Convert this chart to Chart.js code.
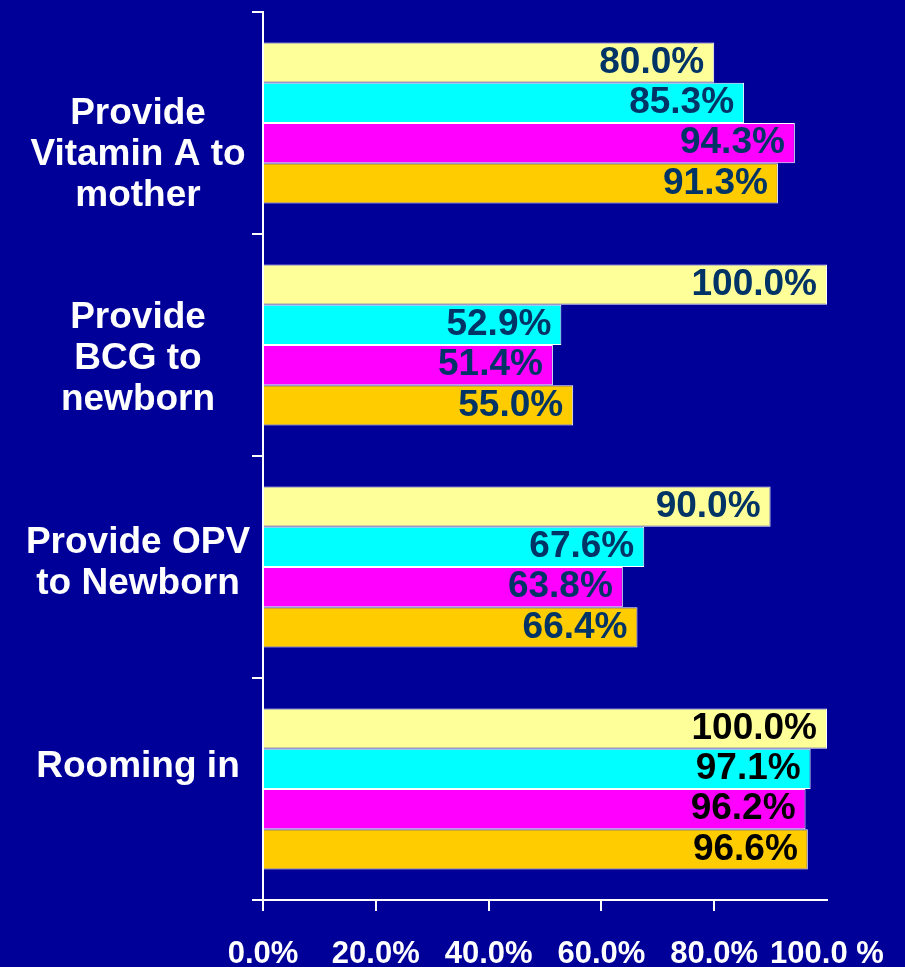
<!DOCTYPE html>
<html>
<head>
<meta charset="utf-8">
<script src="https://cdn.jsdelivr.net/npm/chart.js@4/dist/chart.umd.min.js"></script>
<style>
  html, body { margin: 0; padding: 0; background: #000099; }
  canvas { display: block; }
</style>
</head>
<body>
<canvas id="chart" width="905" height="967"></canvas>
<script>
// Chart data
const categories = [
  ['Provide', 'Vitamin A to', 'mother'],
  ['Provide', 'BCG to', 'newborn'],
  ['Provide OPV', 'to Newborn'],
  ['Rooming in'],
];
const series1 = [80.0, 100.0, 90.0, 100.0];
const series2 = [85.3, 52.9, 67.6, 97.1];
const series3 = [94.3, 51.4, 63.8, 96.2];
const series4 = [91.3, 55.0, 66.4, 96.6];
const xTickLabels = ['0.0%', '20.0%', '40.0%', '60.0%', '80.0%', '100.0 %'];

const FONT = '"Liberation Sans", Arial, sans-serif';
const barColors = ['#ffff99', '#00ffff', '#ff00ff', '#ffcc00'];

// Category names drawn in the left margin
const categoryLabels = {
  id: 'categoryLabels',
  afterDraw(chart) {
    const { ctx } = chart;
    const y = chart.scales.y;
    ctx.save();
    ctx.font = `bold 37px ${FONT}`;
    ctx.fillStyle = '#ffffff';
    ctx.textAlign = 'center';
    ctx.textBaseline = 'middle';
    const lineH = 41;
    categories.forEach((lines, i) => {
      const cy = y.getPixelForValue(i) + (1.5 - i) * 18 + 5;
      const top = cy - (lines.length - 1) * lineH / 2;
      lines.forEach((t, j) => ctx.fillText(t, 138, top + j * lineH));
    });
    ctx.restore();
  },
};

// Value labels at the end of each bar
const valueLabels = {
  id: 'valueLabels',
  afterDatasetsDraw(chart) {
    const { ctx } = chart;
    ctx.save();
    ctx.font = `bold 37px ${FONT}`;
    ctx.textAlign = 'right';
    ctx.textBaseline = 'middle';
    chart.data.datasets.forEach((ds, di) => {
      chart.getDatasetMeta(di).data.forEach((bar, i) => {
        ctx.fillStyle = i === 3 ? '#000000' : '#003366';
        ctx.fillText(ds.data[i].toFixed(1) + '%', bar.x - 10, bar.y);
      });
    });
    ctx.restore();
  },
};

const makeSet = (label, data, color) => ({
  label,
  data,
  backgroundColor: color,
  borderColor: '#ffffff',
  borderWidth: 1,
  categoryPercentage: 0.725,
  barPercentage: 1.0,
});

new Chart(document.getElementById('chart'), {
  type: 'bar',
  data: {
    labels: categories,
    datasets: [
      makeSet('Series 1', series1, barColors[0]),
      makeSet('Series 2', series2, barColors[1]),
      makeSet('Series 3', series3, barColors[2]),
      makeSet('Series 4', series4, barColors[3]),
    ],
  },
  options: {
    indexAxis: 'y',
    responsive: false,
    animation: false,
    layout: { padding: { left: 252, top: 12, right: 78, bottom: 0 } },
    plugins: {
      legend: { display: false },
      tooltip: { enabled: false },
    },
    scales: {
      x: {
        min: 0,
        max: 100,
        afterFit: (scale) => {
          scale.height = 67;
          scale.paddingLeft = 0;
          scale.paddingRight = 0;
        },
        ticks: {
          stepSize: 20,
          autoSkip: false,
          color: '#ffffff',
          padding: 28,
          font: { family: FONT, size: 31, weight: 'bold', lineHeight: 1 },
          maxRotation: 0,
          callback: (v) => xTickLabels[Math.round(v / 20)],
        },
        grid: {
          drawOnChartArea: false,
          tickLength: 11,
          lineWidth: 2,
          color: (c) => (c.tick && c.tick.value === 100 ? 'rgba(0,0,0,0)' : '#ffffff'),
        },
        border: { display: true, color: '#ffffff', width: 2 },
      },
      y: {
        ticks: { display: false },
        grid: {
          drawOnChartArea: false,
          tickLength: 11,
          lineWidth: 2,
          color: '#ffffff',
        },
        border: { display: true, color: '#ffffff', width: 2 },
      },
    },
  },
  plugins: [categoryLabels, valueLabels],
});
</script>
</body>
</html>
